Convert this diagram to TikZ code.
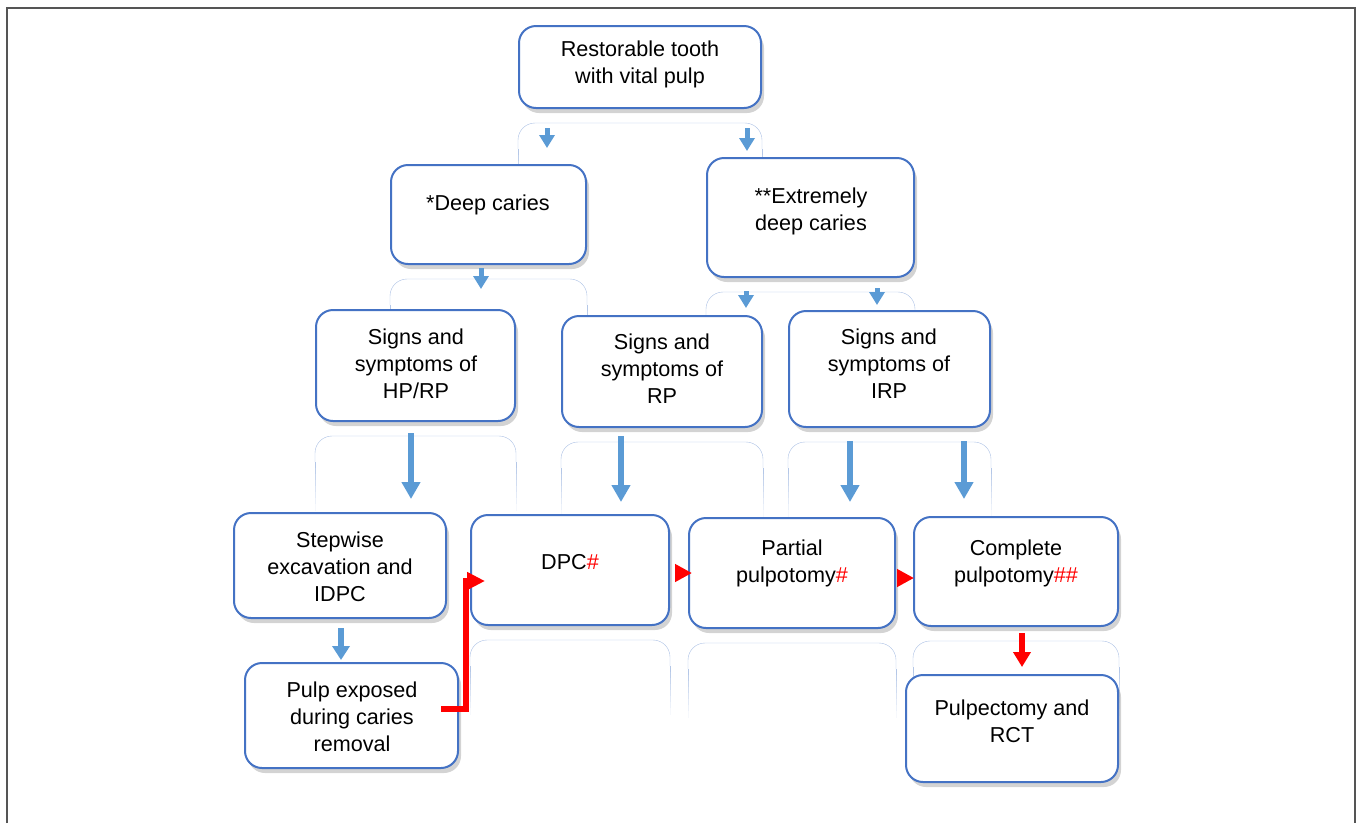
\documentclass[tikz,border=0pt]{standalone}
\usepackage{fontspec}
\setmainfont{Liberation Sans}
\usepackage{xcolor}
\usetikzlibrary{positioning,calc}
\usetikzlibrary{arrows.meta,shadows,backgrounds}
\definecolor{boxblue}{HTML}{4472C4}
\definecolor{arrowblue}{HTML}{5B9BD5}
\definecolor{framegray}{HTML}{555555}

\begin{document}
\begin{tikzpicture}[x=1pt,y=-1pt,
   box/.style={draw=boxblue, line width=2pt, rounded corners=17pt, fill=white,
     drop shadow={shadow xshift=3pt, shadow yshift=-5pt, opacity=.35}},
   txt/.style={align=center, font=\fontsize{21.6}{27}\selectfont},
   flowarrow/.style={draw=arrowblue, line width=6pt, -{Triangle[width=18pt,length=17pt]}},
   shortarrow/.style={draw=arrowblue, line width=5pt, -{Triangle[width=15pt,length=13pt]}},
   redarrow/.style={draw=red, line width=6pt, -{Triangle[width=17pt,length=17pt]}}]
   \useasboundingbox (0,0) rectangle (1357,823);
   \draw[framegray, line width=2pt] (7,823) |- (1355,8) -- (1355,823);

   % boxes
   \node[box, minimum width=242, minimum height=82] (root) at (640,67) {};
   \node[box, minimum width=195, minimum height=99] (deep) at (488.5,214.5) {};
   \node[box, minimum width=207, minimum height=119] (ext) at (810.5,217.5) {};
   \node[box, minimum width=199, minimum height=111] (hprp) at (415.5,365.5) {};
   \node[box, minimum width=200, minimum height=111] (rp) at (662,371.5) {};
   \node[box, minimum width=201, minimum height=116] (irp) at (889.5,369) {};
   \node[box, minimum width=212, minimum height=105] (step) at (340,565.5) {};
   \node[box, minimum width=198, minimum height=110] (dpc) at (570,570) {};
   \node[box, minimum width=206, minimum height=110] (partial) at (792,573) {};
   \node[box, minimum width=204, minimum height=109] (complete) at (1016,571.5) {};
   \node[box, minimum width=213, minimum height=105] (pulp) at (351.5,715.5) {};
   \node[box, minimum width=212, minimum height=107] (rct) at (1012,728.5) {};

   % faded reflections under the boxes
   \begin{scope}[on background layer, line width=2pt]
   \foreach \b in {root,deep,ext,hprp,rp,irp,dpc,partial,complete}{
     \draw[boxblue!45, rounded corners=17pt] ([yshift=-40pt]\b.south west) -- ([yshift=-14pt]\b.south west)
       -- ([yshift=-14pt]\b.south east) -- ([yshift=-40pt]\b.south east);
     \foreach \k [evaluate=\k as \c using int(40-5*\k)] in {0,...,7}{
       \draw[boxblue!\c] ([yshift={-40pt-6pt*\k}]\b.south west) -- ++(0,6.5);
       \draw[boxblue!\c] ([yshift={-40pt-6pt*\k}]\b.south east) -- ++(0,6.5);
     }
   }
   \end{scope}

   % texts
   \node[txt] (roottxt) at (640,64) {Restorable tooth\\with vital pulp};
   \node[txt] (deeptxt) at (488,205) {*Deep caries};
   \node[txt] (exttxt) at (811,211) {**Extremely\\deep caries};
   \node[txt] (hprptxt) at (416,364) {Signs and\\symptoms of\\HP/RP};
   \node[txt] (rptxt) at (662,369) {Signs and\\symptoms of\\RP};
   \node[txt] (irptxt) at (889,364) {Signs and\\symptoms of\\IRP};
   \node[txt] (steptxt) at (340,567) {Stepwise\\excavation and\\IDPC};
   \node[txt] (dpctxt) at (570,562) {DPC\textcolor{red}{\#}};
   \node[txt] (partialtxt) at (792,563) {Partial\\pulpotomy\textcolor{red}{\#}};
   \node[txt] (completetxt) at (1016,563) {Complete\\pulpotomy\textcolor{red}{\#\#}};
   \node[txt] (pulptxt) at (352,717) {Pulp exposed\\during caries\\removal};
   \node[txt] (rcttxt) at (1012,721) {Pulpectomy and\\RCT};

   % blue arrows
   \draw[shortarrow, shorten <=19pt, shorten >=16pt] ([xshift=-93pt]root.south) -- ([xshift=-93pt]root.south |- deep.north);
   \draw[shortarrow, shorten <=19pt, shorten >=6pt] ([xshift=107pt]root.south) -- ([xshift=107pt]root.south |- ext.north);
   \draw[shortarrow, shorten <=3pt, shorten >=20pt] ([xshift=-7.5pt]deep.south) -- ([xshift=-7.5pt]deep.south |- hprp.north);
   \draw[shortarrow, shorten <=13pt, shorten >=7pt] ([xshift=-64.5pt]ext.south) -- ([xshift=-64.5pt]ext.south |- rp.north);
   \draw[shortarrow, shorten <=10pt, shorten >=5pt] ([xshift=66.5pt]ext.south) -- ([xshift=66.5pt]ext.south |- irp.north);
   \draw[flowarrow, shorten <=11pt, shorten >=13pt] ([xshift=-4.5pt]hprp.south) -- ([xshift=-4.5pt]hprp.south |- step.north);
   \draw[flowarrow, shorten <=8pt, shorten >=12pt] ([xshift=-41pt]rp.south) -- ([xshift=-41pt]rp.south |- dpc.north);
   \draw[flowarrow, shorten <=13pt, shorten >=15pt] ([xshift=-39.5pt]irp.south) -- ([xshift=-39.5pt]irp.south |- partial.north);
   \draw[flowarrow, shorten <=13pt, shorten >=17pt] ([xshift=74.5pt]irp.south) -- ([xshift=74.5pt]irp.south |- complete.north);
   \draw[shortarrow, line width=6pt, -{Triangle[width=17pt,length=14pt]}, shorten <=9pt, shorten >=2pt] ([xshift=1pt]step.south) -- ([xshift=1pt]step.south |- pulp.north);

   % red arrows
   \draw[redarrow, -{Triangle[width=17pt,length=18pt]}] ([xshift=-18pt,yshift=6.5pt]pulp.east) -- ++(25,0) |- ([xshift=15pt,yshift=-11pt]dpc.west);
   \draw[redarrow, shorten <=8pt, shorten >=-4pt] ([yshift=-3pt]dpc.east) -- ([yshift=-3pt]dpc.east -| partial.west);
   \draw[redarrow, shorten <=3pt, shorten >=-1pt] ([yshift=-5pt]partial.east) -- ([yshift=-5pt]partial.east -| complete.west);
   \draw[redarrow, -{Triangle[width=17pt,length=15pt]}, shorten <=6pt, shorten >=7pt] ([xshift=6pt]complete.south) -- ([xshift=6pt]complete.south |- rct.north);
\end{tikzpicture}
\end{document}
